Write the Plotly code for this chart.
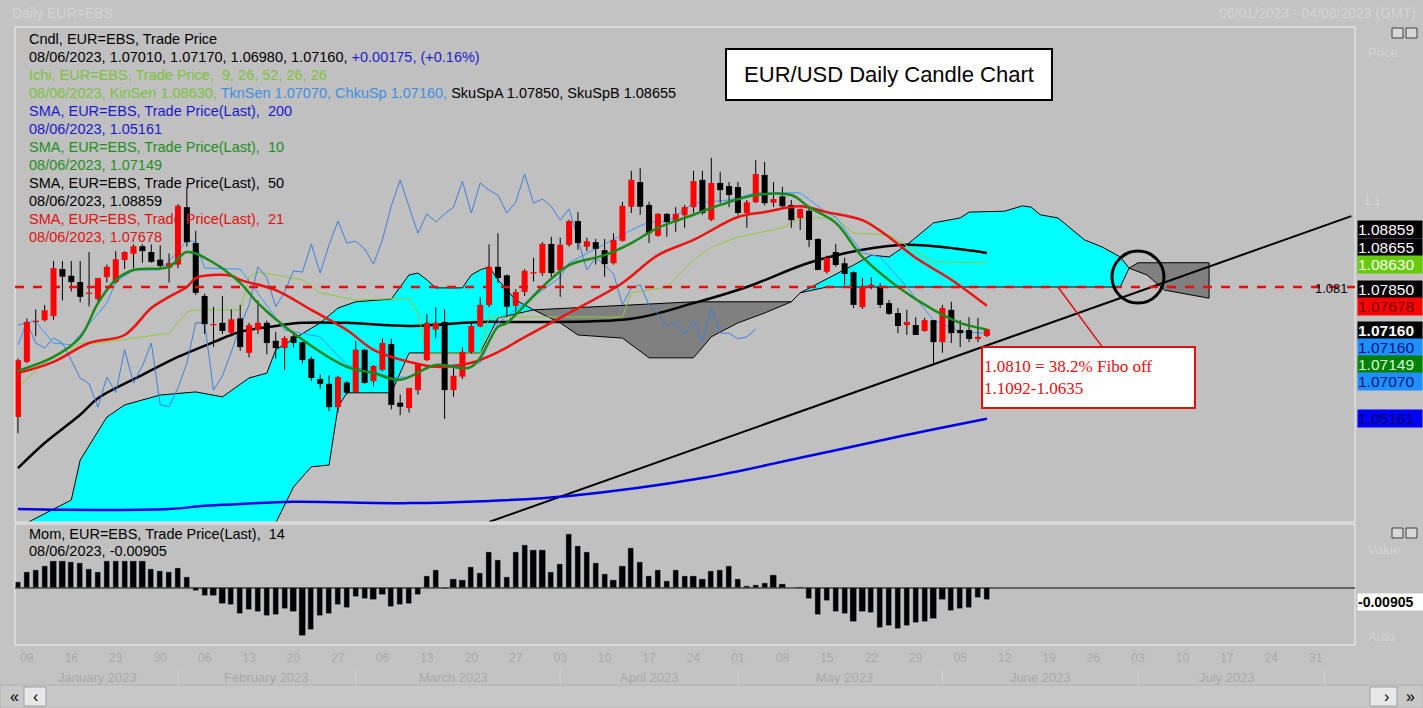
import numpy as np
import pandas as pd
import plotly.graph_objects as go

# ---- data ----
dates = pd.bdate_range("2023-01-06", periods=152)

opens = [1.0520, 1.0643, 1.0732, 1.0736, 1.0745, 1.0850, 1.0835, 1.0821, 1.0795, 1.0783,
         1.0832, 1.0821, 1.0870, 1.0884, 1.0901, 1.0888, 1.0871, 1.0853, 1.0860, 1.0988,
         1.0908, 1.0790, 1.0725, 1.0730, 1.0708, 1.0740, 1.0663, 1.0714, 1.0730, 1.0690,
         1.0674, 1.0700, 1.0687, 1.0650, 1.0605, 1.0594, 1.0542, 1.0597, 1.0576, 1.0670,
         1.0600, 1.0625, 1.0683, 1.0552, 1.0540, 1.0580, 1.0647, 1.0715, 1.0732, 1.0580,
         1.0610, 1.0665, 1.0722, 1.0770, 1.0855, 1.0836, 1.0768, 1.0799, 1.0840, 1.0841,
         1.0906, 1.0848, 1.0904, 1.0957, 1.0900, 1.0910, 1.0892, 1.0863, 1.0913, 1.0989,
         1.1044, 1.0993, 1.0924, 1.0973, 1.0955, 1.0970, 1.0988, 1.1049, 1.0960, 1.1042,
         1.1035, 1.1033, 1.0975, 1.0999, 1.1060, 1.0998, 1.1012, 1.0993, 1.0964, 1.0980,
         1.0917, 1.0844, 1.0888, 1.0863, 1.0843, 1.0765, 1.0810, 1.0810, 1.0774, 1.0752,
         1.0725, 1.0725, 1.0712, 1.0736, 1.0687, 1.0759, 1.0714, 1.0714, 1.0694, 1.0701]
highs = [1.0650, 1.0740, 1.0760, 1.0770, 1.0868, 1.0868, 1.0868, 1.0868, 1.0888, 1.0830,
         1.0860, 1.0890, 1.0890, 1.0905, 1.0905, 1.0905, 1.0903, 1.0885, 1.0995, 1.1033,
         1.0935, 1.0795, 1.0766, 1.0790, 1.0760, 1.0770, 1.0730, 1.0780, 1.0735, 1.0710,
         1.0700, 1.0705, 1.0687, 1.0655, 1.0615, 1.0613, 1.0612, 1.0600, 1.0690, 1.0672,
         1.0636, 1.0695, 1.0695, 1.0570, 1.0585, 1.0640, 1.0750, 1.0765, 1.0760, 1.0630,
         1.0675, 1.0732, 1.0787, 1.0905, 1.0930, 1.0838, 1.0805, 1.0850, 1.0875, 1.0910,
         1.0922, 1.0920, 1.0960, 1.0977, 1.0920, 1.0917, 1.0917, 1.0930, 1.1000, 1.1069,
         1.1075, 1.1000, 1.0975, 1.0975, 1.0988, 1.0993, 1.1069, 1.1069, 1.1098, 1.1067,
         1.1044, 1.1044, 1.1004, 1.1093, 1.1089, 1.1044, 1.1033, 1.1004, 1.0985, 1.0988,
         1.0919, 1.0880, 1.0906, 1.0875, 1.0845, 1.0830, 1.0832, 1.0819, 1.0781, 1.0763,
         1.0759, 1.0743, 1.0741, 1.0736, 1.0770, 1.0777, 1.0736, 1.0743, 1.0741, 1.0717]
lows = [1.0484, 1.0640, 1.0700, 1.0733, 1.0737, 1.0780, 1.0800, 1.0776, 1.0767, 1.0778,
        1.0820, 1.0818, 1.0850, 1.0852, 1.0864, 1.0864, 1.0850, 1.0820, 1.0852, 1.0900,
        1.0792, 1.0705, 1.0676, 1.0705, 1.0700, 1.0668, 1.0653, 1.0705, 1.0660, 1.0650,
        1.0625, 1.0675, 1.0640, 1.0600, 1.0583, 1.0533, 1.0530, 1.0570, 1.0575, 1.0594,
        1.0588, 1.0622, 1.0537, 1.0524, 1.0530, 1.0570, 1.0645, 1.0695, 1.0516, 1.0565,
        1.0605, 1.0662, 1.0720, 1.0765, 1.0819, 1.0743, 1.0752, 1.0790, 1.0822, 1.0835,
        1.0832, 1.0788, 1.0900, 1.0893, 1.0890, 1.0860, 1.0833, 1.0860, 1.0911, 1.0975,
        1.0971, 1.0908, 1.0922, 1.0922, 1.0933, 1.0942, 1.0975, 1.0971, 1.0957, 1.0997,
        1.0988, 1.0970, 1.0942, 1.0997, 1.0992, 1.0988, 1.0985, 1.0942, 1.0937, 1.0899,
        1.0848, 1.0840, 1.0855, 1.0815, 1.0763, 1.0761, 1.0805, 1.0763, 1.0748, 1.0707,
        1.0703, 1.0703, 1.0710, 1.0636, 1.0663, 1.0685, 1.0676, 1.0687, 1.0687, 1.0698]
closes = [1.0647, 1.0732, 1.0735, 1.0758, 1.0852, 1.0833, 1.0821, 1.0788, 1.0797, 1.0830,
          1.0855, 1.0872, 1.0888, 1.0901, 1.0890, 1.0866, 1.0857, 1.0863, 1.0991, 1.0910,
          1.0797, 1.0727, 1.0727, 1.0712, 1.0738, 1.0676, 1.0725, 1.0730, 1.0685, 1.0674,
          1.0696, 1.0685, 1.0647, 1.0607, 1.0594, 1.0542, 1.0609, 1.0574, 1.0670, 1.0596,
          1.0634, 1.0685, 1.0547, 1.0543, 1.0585, 1.0640, 1.0730, 1.0730, 1.0580, 1.0612,
          1.0665, 1.0723, 1.0770, 1.0855, 1.0830, 1.0766, 1.0799, 1.0846, 1.0843, 1.0906,
          1.0841, 1.0904, 1.0957, 1.0908, 1.0912, 1.0895, 1.0861, 1.0915, 1.0991, 1.1049,
          1.0989, 1.0930, 1.0973, 1.0955, 1.0973, 1.0988, 1.1046, 1.0975, 1.1042, 1.1026,
          1.1015, 1.0975, 1.0999, 1.1062, 1.0997, 1.1006, 1.0990, 1.0959, 1.0984, 1.0915,
          1.0848, 1.0875, 1.0859, 1.0839, 1.0770, 1.0808, 1.0815, 1.0770, 1.0750, 1.0723,
          1.0732, 1.0703, 1.0736, 1.0687, 1.0763, 1.0707, 1.0707, 1.0694, 1.0699, 1.0716]

# momentum (14), in pips
mom_pips = [42, 115, 135, 164, 201, 201, 191, 184, 142, 120, 201, 201, 201, 201, 201, 142, 122, 115,
            149, 83, -25, -61, -61, -115, -122, -194, -159, -176, -208, -201, -152, -176, -355, -311,
            -208, -189, -127, -145, -69, -78, -86, -54, -142, -125, -118, -49, 91, 135, -7, 69, 61,
            157, 108, 267, 208, 83, 267, 319, 282, 282, 120, 179, 399, 311, 267, 184, 103, 61, 164,
            296, 191, 91, 135, 54, 135, 91, 91, 69, 127, 135, 164, 69, 12, 20, 37, 98, 32, 0, 7,
            -78, -201, -96, -179, -194, -252, -176, -184, -294, -282, -301, -277, -257, -252, -228,
            -86, -172, -154, -147, -71, -90]

sma200_idx = [0, 5, 17, 21, 25, 31, 44, 53, 62, 77, 88, 99, 109]
sma200_val = [1.0315, 1.0313, 1.0315, 1.0322, 1.0326, 1.0331, 1.0328, 1.0333, 1.0344, 1.0384,
              1.0429, 1.0476, 1.0516]
sma50_idx = [0, 3, 7, 9, 14, 18, 22, 25, 29, 32, 37, 44, 52, 56, 69, 76, 82, 89, 95, 100, 104, 109]
sma50_val = [1.0406, 1.0462, 1.0525, 1.0562, 1.0614, 1.0654, 1.0687, 1.0710, 1.0723, 1.0730,
             1.0730, 1.0723, 1.0732, 1.0732, 1.0739, 1.0774, 1.0810, 1.0864, 1.0893, 1.0904,
             1.0899, 1.0886]
sma21_idx = [0, 4, 8, 12, 15, 17, 19, 20, 22, 24, 25, 29, 33, 37, 40, 44, 47, 51, 54, 57, 62, 68,
             72, 76, 81, 84, 88, 91, 95, 98, 101, 105, 109]
sma21_val = [1.0618, 1.0643, 1.0685, 1.0703, 1.0763, 1.0788, 1.0810, 1.0830, 1.0837, 1.0835,
             1.0826, 1.0803, 1.0759, 1.0714, 1.0670, 1.0643, 1.0632, 1.0641, 1.0665, 1.0698,
             1.0752, 1.0819, 1.0881, 1.0915, 1.0966, 1.0977, 1.0990, 1.0977, 1.0959, 1.0921,
             1.0875, 1.0826, 1.0768]
sma10_idx = [0, 4, 7, 9, 11, 13, 17, 19, 22, 25, 27, 31, 37, 40, 43, 47, 51, 54, 55, 59, 62, 66,
             69, 72, 76, 79, 83, 87, 89, 92, 95, 99, 103, 106, 109]
sma10_val = [1.0623, 1.0654, 1.0698, 1.0774, 1.0826, 1.0848, 1.0855, 1.0888, 1.0864, 1.0819,
             1.0774, 1.0707, 1.0632, 1.0618, 1.0603, 1.0636, 1.0632, 1.0721, 1.0730, 1.0810,
             1.0859, 1.0881, 1.0908, 1.0942, 1.0971, 1.0993, 1.1015, 1.1015, 1.0988, 1.0953,
             1.0877, 1.0810, 1.0759, 1.0730, 1.0715]
tenkan_idx = [0, 1, 2, 4, 6, 10, 11, 13, 16, 18, 19, 20, 21, 25, 30, 34, 37, 42, 44, 46, 49, 52,
              54, 59, 61, 62, 69, 71, 73, 76, 80, 83, 88, 91, 92, 95, 97, 100, 103, 106, 109]
tenkan_val = [1.0681, 1.0732, 1.0732, 1.0685, 1.0681, 1.0774, 1.0821, 1.0848, 1.0848, 1.0888,
              1.0915, 1.0910, 1.0852, 1.0850, 1.0714, 1.0699, 1.0636, 1.0609, 1.0609, 1.0632,
              1.0636, 1.0641, 1.0730, 1.0803, 1.0832, 1.0864, 1.0937, 1.0955, 1.0955, 1.0997,
              1.1004, 1.1020, 1.1020, 1.0975, 1.0966, 1.0886, 1.0877, 1.0810, 1.0736, 1.0710,
              1.0707]
kijun_idx = [0, 3, 7, 9, 17, 19, 20, 25, 26, 27, 32, 34, 38, 44, 45, 46, 52, 53, 68, 69, 73, 76,
             78, 81, 86, 88, 92, 94, 98, 103, 109]
kijun_val = [1.0587, 1.0641, 1.0685, 1.0685, 1.0707, 1.0754, 1.0759, 1.0759, 1.0832, 1.0843,
             1.0826, 1.0797, 1.0781, 1.0785, 1.0752, 1.0663, 1.0663, 1.0743, 1.0743, 1.0797,
             1.0810, 1.0870, 1.0899, 1.0921, 1.0942, 1.0964, 1.0964, 1.0930, 1.0926, 1.0866,
             1.0864]
spanA_idx = [0, 1, 6, 7, 10, 12, 16, 20, 23, 26, 28, 29, 34, 36, 38, 42, 44, 45, 46, 47, 50, 51,
             52, 53, 54, 56, 58, 61, 63, 68, 71, 76, 78, 81, 84, 87, 88, 94, 96, 98, 100, 103, 106,
             107, 111, 113, 114, 115, 117, 120, 122, 124, 125, 127, 129, 134]
spanA_val = [1.0270, 1.0284, 1.0335, 1.0424, 1.0520, 1.0547, 1.0569, 1.0576, 1.0565, 1.0607,
             1.0618, 1.0670, 1.0730, 1.0763, 1.0777, 1.0783, 1.0837, 1.0841, 1.0826, 1.0808,
             1.0808, 1.0837, 1.0848, 1.0855, 1.0826, 1.0781, 1.0759, 1.0730, 1.0703, 1.0696,
             1.0652, 1.0652, 1.0699, 1.0730, 1.0752, 1.0777, 1.0797, 1.0859, 1.0881, 1.0877,
             1.0904, 1.0953, 1.0964, 1.0977, 1.0979, 1.0991, 1.0988, 1.0971, 1.0964, 1.0915,
             1.0899, 1.0877, 1.0852, 1.0837, 1.0803, 1.0785]
spanB_idx = [0, 28, 29, 31, 33, 35, 36, 37, 42, 44, 52, 54, 58, 76, 87, 88, 91, 124, 125, 126, 134]
spanB_val = [1.0112, 1.0246, 1.0284, 1.0364, 1.0409, 1.0413, 1.0542, 1.0574, 1.0574, 1.0663,
             1.0663, 1.0741, 1.0759, 1.0777, 1.0777, 1.0797, 1.0810, 1.0810, 1.0852, 1.0864,
             1.0864]
cloud_splits = [(0, 58, "#00ffff"), (58, 87, "#808080"), (87, 125, "#00ffff"), (125, 134, "#808080")]

fibo_level = 1.081
trend_idx = [53, 150]
trend_val = [1.0286, 1.0968]

right_labels = [("1.08859", 229, "#000000", "#ffffff"), ("1.08655", 247, "#000000", "#ffffff"),
                ("1.08630", 264, "#66cc00", "#ffffff"), ("1.07850", 289, "#000000", "#ffffff"),
                ("1.07678", 307, "#ff0000", "#700000"), ("<b>1.07160</b>", 330, "#000000", "#ffffff"),
                ("1.07160", 347, "#1e90ff", "#00137a"), ("1.07149", 364, "#008000", "#d8ffd8"),
                ("1.07070", 381, "#1e90ff", "#00137a"), ("1.05161", 418, "#0000ff", "#000060")]

# ---- figure ----
W, H = 1423, 708
L, R, T, B = 15, 68, 27, 63
PH = H - T - B
PW = W - L - R


def py(ypix):
    return (H - B - ypix) / PH


def px_(xpix):
    return (xpix - L) / PW


cd = dates[:len(closes)]
fig = go.Figure()

# cloud
for lo, hi, col in cloud_splits:
    ax = [dates[i] for i in spanA_idx if lo <= i <= hi]
    ay = [v for i, v in zip(spanA_idx, spanA_val) if lo <= i <= hi]
    bx = [dates[i] for i in spanB_idx if lo <= i <= hi][::-1]
    by = [v for i, v in zip(spanB_idx, spanB_val) if lo <= i <= hi][::-1]
    fig.add_trace(go.Scatter(x=ax + bx + [ax[0]], y=ay + by + [ay[0]], fill="toself",
                             fillcolor=col, mode="lines", line=dict(color="black", width=1),
                             hoverinfo="skip"))

fig.add_trace(go.Scatter(x=[dates[i] for i in trend_idx], y=trend_val, mode="lines",
                         line=dict(color="black", width=2)))
fig.add_trace(go.Scatter(x=[dates[i] for i in sma200_idx], y=sma200_val, mode="lines",
                         line=dict(color="#0000e6", width=2.5, shape="spline")))
fig.add_trace(go.Scatter(x=[dates[i] for i in sma50_idx], y=sma50_val, mode="lines",
                         line=dict(color="black", width=2.5, shape="spline")))
fig.add_trace(go.Scatter(x=[dates[i] for i in kijun_idx], y=kijun_val, mode="lines",
                         line=dict(color="#8fc93a", width=1)))
# chikou: close shifted back 26 periods
fig.add_trace(go.Scatter(x=list(cd[:len(closes) - 26]), y=closes[26:], mode="lines",
                         line=dict(color="#3f7fd8", width=1)))
fig.add_trace(go.Scatter(x=[dates[i] for i in tenkan_idx], y=tenkan_val, mode="lines",
                         line=dict(color="#3399ff", width=1)))

# candles: wicks, then bodies as thick segments
wx, wy = [], []
for d, h, l in zip(cd, highs, lows):
    wx += [d, d, None]
    wy += [l, h, None]
fig.add_trace(go.Scatter(x=wx, y=wy, mode="lines", line=dict(color="black", width=1)))
for up, col in [(True, "#ff0000"), (False, "#000000")]:
    bx, by = [], []
    for d, o, c in zip(cd, opens, closes):
        if (c >= o) != up:
            continue
        lo_, hi_ = min(o, c), max(o, c)
        if hi_ - lo_ < 0.0003:
            mid = (hi_ + lo_) / 2
            lo_, hi_ = mid - 0.00015, mid + 0.00015
        bx += [d, d, None]
        by += [lo_, hi_, None]
    fig.add_trace(go.Scatter(x=bx, y=by, mode="lines", line=dict(color=col, width=6)))

fig.add_trace(go.Scatter(x=[dates[i] for i in sma21_idx], y=sma21_val, mode="lines",
                         line=dict(color="#ee1111", width=2.5, shape="spline")))
fig.add_trace(go.Scatter(x=[dates[i] for i in sma10_idx], y=sma10_val, mode="lines",
                         line=dict(color="#1a8a1a", width=2.5, shape="spline")))

# momentum
fig.add_trace(go.Bar(x=cd, y=[m / 10000 for m in mom_pips], marker=dict(color="black"),
                     width=0.7 * 86400000, xaxis="x2", yaxis="y2"))

fig.update_traces(showlegend=False)

xr = [dates[0] - pd.Timedelta(hours=8), dates[150] + pd.Timedelta(hours=10)]
xcommon = dict(type="date", range=xr, rangebreaks=[dict(bounds=["sat", "mon"])],
               showgrid=False, zeroline=False, showline=False)
fig.update_layout(
    width=W, height=H, margin=dict(l=L, r=R, t=T, b=B),
    paper_bgcolor="#c3c3c3", plot_bgcolor="#c0c0c0", bargap=0,
    font=dict(family="Liberation Sans", size=13, color="black"),
    xaxis=dict(**xcommon, anchor="y", showticklabels=False, ticks=""),
    xaxis2=dict(**xcommon, anchor="y2", matches="x", tickformat="%d", tick0="2023-01-09",
                dtick=7 * 86400000, ticks="", ticklabelstandoff=4,
                tickfont=dict(color="#a9a9a9", size=12)),
    yaxis=dict(domain=[py(522), 1], range=[1.02859, 1.13898], showgrid=False,
               showticklabels=False, zeroline=False),
    yaxis2=dict(domain=[0, py(524)], range=[-0.0419, 0.047], showgrid=False,
                showticklabels=False, zeroline=False),
)

shapes = []
# panel borders
for y0, y1 in [(27, 522), (524, 645)]:
    shapes.append(dict(type="rect", xref="paper", yref="paper", x0=0, x1=1, y0=py(y1), y1=py(y0),
                       line=dict(color="#f0f0f0", width=1)))
shapes.append(dict(type="line", xref="paper", yref="y", x0=0, x1=1, y0=fibo_level, y1=fibo_level,
                   line=dict(color="#e01010", width=2.5, dash="dash")))
shapes.append(dict(type="line", xref="paper", yref="y2", x0=0, x1=1, y0=0, y1=0,
                   line=dict(color="black", width=1)))
shapes.append(dict(type="line", xref="x", yref="y", x0=dates[117], y0=fibo_level, x1=dates[122],
                   y1=1.0676, line=dict(color="#e01010", width=1.5)))
shapes.append(dict(type="circle", xref="x", yref="y", xsizemode="pixel", ysizemode="pixel",
                   xanchor=dates[126], yanchor=1.0832, x0=-26, x1=26, y0=-26, y1=26,
                   line=dict(color="black", width=3)))
# month separators
for m in ["2023-02-01", "2023-03-01", "2023-04-03", "2023-05-01", "2023-06-01", "2023-07-03", "2023-08-01"]:
    shapes.append(dict(type="line", xref="x", yref="paper", x0=m, x1=m, y0=py(669), y1=py(684),
                       line=dict(color="#d0d0d0", width=1)))
# scroll bar
shapes.append(dict(type="rect", xref="paper", yref="paper", x0=px_(0), x1=px_(1423), y0=py(708),
                   y1=py(685), fillcolor="#c8c8c8", line=dict(color="#b0b0b0", width=1)))
for a, b in [(24, 46), (1370, 1397)]:
    shapes.append(dict(type="rect", xref="paper", yref="paper", x0=px_(a), x1=px_(b), y0=py(706),
                       y1=py(687), fillcolor="#e8e8e8", line=dict(color="#a0a0a0", width=1)))
# window icons
for yy in [33, 533]:
    for xx in [1392, 1406]:
        shapes.append(dict(type="rect", xref="paper", yref="paper", x0=px_(xx), x1=px_(xx + 11),
                           y0=py(yy + 5), y1=py(yy - 5), fillcolor="#d8d8d8",
                           line=dict(color="#404040", width=1)))
fig.update_layout(shapes=shapes)

ann = []


def text(x, y, s, color="black", size=13, family="Liberation Sans", xanchor="left", **kw):
    ann.append(dict(xref="paper", yref="paper", x=px_(x), y=py(y), text=s, showarrow=False,
                    xanchor=xanchor, yanchor="middle", font=dict(color=color, size=size, family=family),
                    **kw))


G, BL, BK = "#7dc23a", "#3d8fe0", "black"
legend = [
    ("Cndl, EUR=EBS, Trade Price", BK),
    ("08/06/2023, 1.07010, 1.07170, 1.06980, 1.07160, <span style='color:#2222cc'>+0.00175, (+0.16%)</span>", BK),
    ("Ichi, EUR=EBS, Trade Price,  9, 26, 52, 26, 26", G),
    ("08/06/2023, KinSen 1.08630, <span style='color:%s'>TknSen 1.07070, ChkuSp 1.07160,</span>"
     " <span style='color:black'>SkuSpA 1.07850, SkuSpB 1.08655</span>" % BL, G),
    ("SMA, EUR=EBS, Trade Price(Last),  200", "#1a1acc"),
    ("08/06/2023, 1.05161", "#1a1acc"),
    ("SMA, EUR=EBS, Trade Price(Last),  10", "#1f8f1f"),
    ("08/06/2023, 1.07149", "#1f8f1f"),
    ("SMA, EUR=EBS, Trade Price(Last),  50", BK),
    ("08/06/2023, 1.08859", BK),
    ("SMA, EUR=EBS, Trade Price(Last),  21", "#e01010"),
    ("08/06/2023, 1.07678", "#e01010"),
]
for k, (s, c) in enumerate(legend):
    text(27, 39 + 18 * k, s, c, 14.5)
text(27, 534, "Mom, EUR=EBS, Trade Price(Last),  14", size=14.5)
text(27, 551, "08/06/2023, -0.00905", size=14.5)

text(10, 13, "Daily EUR=EBS", "#d4d4d4", 14)
text(1418, 13, "06/01/2023 - 04/08/2023 (GMT)", "#d4d4d4", 14, xanchor="right")
text(1366, 52, "Price", "#d4d4d4", 13)
text(1362, 201, "1.1", "#d4d4d4", 12)
text(1366, 549, "Value", "#d4d4d4", 13)
text(1366, 636, "Auto", "#d4d4d4", 13)
text(1350, 288, "1.081", "black", 13, xanchor="right")

for s, yy, bg, fc in right_labels:
    text(1357, yy, s, fc, 15.5, bgcolor=bg, borderpad=0, width=64, height=17, align="left")
text(1357, 602, "<b>-0.00905</b>", "black", 14, bgcolor="white", borderpad=0, width=66, height=16,
     align="left")

ann.append(dict(xref="paper", yref="paper", x=px_(889), y=py(75), yanchor="middle",
                text="EUR/USD Daily Candle Chart",
                showarrow=False, font=dict(size=22, family="Liberation Sans", color="black"),
                bgcolor="white", bordercolor="black", borderwidth=2, width=322, height=47))
ann.append(dict(xref="paper", yref="paper", x=px_(1196), y=py(377), yanchor="middle",
                text="1.0810 = 38.2% Fibo off<br>1.1092-1.0635", showarrow=False, align="left",
                font=dict(size=17, family="Liberation Serif", color="#e01010"),
                bgcolor="white", bordercolor="#e01010", borderwidth=2, width=209, height=57))

months = [("January 2023", "2023-01-19"), ("February 2023", "2023-02-15"), ("March 2023", "2023-03-16"),
          ("April 2023", "2023-04-17"), ("May 2023", "2023-05-17"), ("June 2023", "2023-06-16"),
          ("July 2023", "2023-07-17")]
for s, d in months:
    ann.append(dict(xref="x", yref="paper", x=d, y=py(677), text=s, showarrow=False,
                    yanchor="middle", font=dict(size=13, color="#a9a9a9", family="Liberation Sans")))
text(14, 696, "«", "black", 16, xanchor="center")
text(35, 696, "‹", "black", 16, xanchor="center")
text(1386, 696, "›", "black", 16, xanchor="center")
text(1410, 696, "»", "black", 16, xanchor="center")

fig.update_layout(annotations=ann)
fig.write_html("out.html", config={"displayModeBar": False},
               post_script="document.body.style.margin='0';document.body.style.overflow='hidden';")
